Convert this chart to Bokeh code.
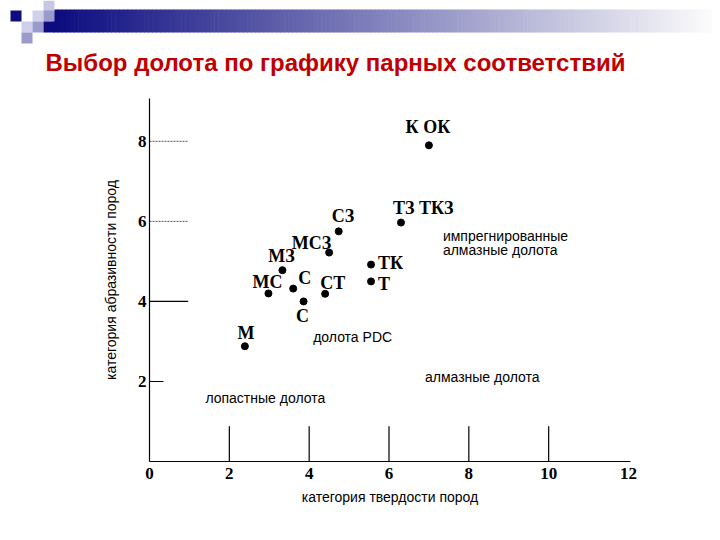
from bokeh.plotting import figure
from bokeh.models import Range1d, FixedTicker, ColumnDataSource, LinearAxis
from bokeh.embed import file_html
from bokeh.resources import INLINE
from bokeh.core.properties import value

# ---------------- data ----------------
TITLE = "Выбор долота по графику парных соответствий"
X_LABEL = "категория твердости пород"
Y_LABEL = "категория абразивности пород"
X_TICKS = [0, 2, 4, 6, 8, 10, 12]
Y_TICKS = [2, 4, 6, 8]
X_TICK_MARKS = [2, 4, 6, 8, 10]
X_MAX, Y_MAX = 12.05, 9.07

bit_codes = ["К ОК", "ТЗ ТКЗ", "СЗ", "МСЗ", "МЗ", "МС", "С", "С", "СТ", "ТК", "Т", "М"]
hardness = [7.0, 6.3, 4.74, 4.5, 3.33, 2.98, 3.6, 3.86, 4.4, 5.55, 5.55, 2.39]
abrasiveness = [7.9, 5.97, 5.75, 5.22, 4.78, 4.2, 4.32, 4.0, 4.19, 4.92, 4.5, 2.88]

zone_names = ["импрегнированные", "алмазные долота", "долота PDC",
              "алмазные долота", "лопастные долота"]
zone_x = [7.35, 7.35, 4.1, 6.9, 1.4]
zone_y = [5.5, 5.15, 2.975, 1.975, 1.45]

# ---------------- styles / placement ----------------
label_align = ["center", "left", "left", "right", "center", "center",
               "left", "center", "left", "left", "left", "center"]
label_dx = [-1, -8, -7, 2, -1, -1, 5, -1, -5, 7, 7, 1]
label_dy = [-18, -15, -15, -10, -14, -11, -11, 15, -11, -2, 3, -13]

W, H = 712, 532
AX_L, AX_R, AX_T, AX_B = 149, 630, 98, 461   # where the axes sit on the canvas (px)
XS = (AX_R - AX_L) / X_MAX
YS = (AX_B - AX_T) / Y_MAX


def dx_(cx):   # canvas px -> x data
    return (cx - AX_L) / XS


def dy_(cy):   # canvas px (down) -> y data
    return (AX_B - cy) / YS


p = figure(width=W, height=H, x_range=Range1d(dx_(0), dx_(W)), y_range=Range1d(dy_(H), dy_(0)),
           toolbar_location=None, output_backend="svg",
           x_axis_location=None, y_axis_location=None, min_border=0)
p.grid.visible = False
p.outline_line_color = None

# ---------------- header decoration ----------------
n = 160
gx0, gx1 = 53.0, float(W)
lefts, rights, cols = [], [], []
for i in range(n):
    t = i / (n - 1)
    lefts.append(dx_(gx0 + (gx1 - gx0) * i / n))
    rights.append(dx_(gx0 + (gx1 - gx0) * (i + 1) / n + 0.6))
    cols.append("#%02x%02x%02x" % (int(12 + 240 * t), int(12 + 240 * t), int(128 + 124 * t)))
p.quad(left=lefts, right=rights, top=dy_(9), bottom=dy_(32), fill_color=cols, line_color=None)

squares = [  # left, top, color (canvas px)
    (43, 0, "#c8c8e4"), (10, 10, "#0c0c80"), (32, 10, "#d0d0ec"), (43, 10, "#9a9acc"),
    (21, 21, "#d0d0ec"), (32, 21, "#9a9acc"), (43, 21, "#0c0c80"), (21, 32, "#9a9acc"),
]
p.quad(left=[dx_(s[0]) for s in squares], right=[dx_(s[0] + 11) for s in squares],
       top=[dy_(s[1]) for s in squares], bottom=[dy_(s[1] + 11) for s in squares],
       fill_color=[s[2] for s in squares], line_color=None)

p.text(x=[dx_(45)], y=[dy_(62)], text=[TITLE], text_font=value("Liberation Sans"),
       text_font_style="bold", text_font_size="24px", text_color="#c00000",
       text_align="left", text_baseline="alphabetic")

# ---------------- axes ----------------
xaxis = LinearAxis(fixed_location=0, bounds=(0, X_MAX), ticker=FixedTicker(ticks=X_TICKS),
                   axis_label=X_LABEL)
yaxis = LinearAxis(fixed_location=0, bounds=(0, Y_MAX), ticker=FixedTicker(ticks=Y_TICKS),
                   axis_label=Y_LABEL)
p.add_layout(xaxis, "below")
p.add_layout(yaxis, "left")
for ax in (xaxis, yaxis):
    ax.major_tick_in = 0
    ax.major_tick_out = 0
    ax.minor_tick_line_color = None
    ax.axis_line_color = "black"
    ax.axis_line_width = 1.2
    ax.major_label_text_font = "Liberation Serif"
    ax.major_label_text_font_style = "bold"
    ax.major_label_text_font_size = "17px"
    ax.major_label_text_color = "black"
    ax.major_label_standoff = 3
    ax.axis_label_text_font = "Liberation Sans"
    ax.axis_label_text_font_style = "normal"
    ax.axis_label_text_font_size = "14px"
    ax.axis_label_text_color = "black"
xaxis.major_label_standoff = 6
xaxis.axis_label_standoff = 7
yaxis.axis_label_standoff = 16

# tick marks drawn inside the plot area
p.segment(x0=X_TICK_MARKS, y0=0, x1=X_TICK_MARKS, y1=0.88, line_color="black", line_width=1.2)
p.segment(x0=0, y0=Y_TICKS[:2], x1=[0.35, 0.97], y1=Y_TICKS[:2], line_color="black", line_width=1.1)
p.segment(x0=0, y0=Y_TICKS[2:], x1=0.97, y1=Y_TICKS[2:], line_color="#555555",
          line_width=1, line_dash="2 1")

# ---------------- points ----------------
src = ColumnDataSource(dict(x=hardness, y=abrasiveness, t=bit_codes,
                            al=label_align, dx=label_dx, dy=label_dy))
p.scatter("x", "y", source=src, size=7, color="black")
p.text("x", "y", text="t", source=src, x_offset="dx", y_offset="dy", text_align="al",
       text_baseline="alphabetic", text_font=value("Liberation Serif"),
       text_font_style="bold", text_font_size="18px", text_color="black")

p.text(x=zone_x, y=zone_y, text=zone_names, y_offset=-5, text_font=value("Liberation Sans"),
       text_font_size="14px", text_color="black", text_align="left",
       text_baseline="alphabetic")

open("out.html", "w").write(file_html(p, INLINE))
